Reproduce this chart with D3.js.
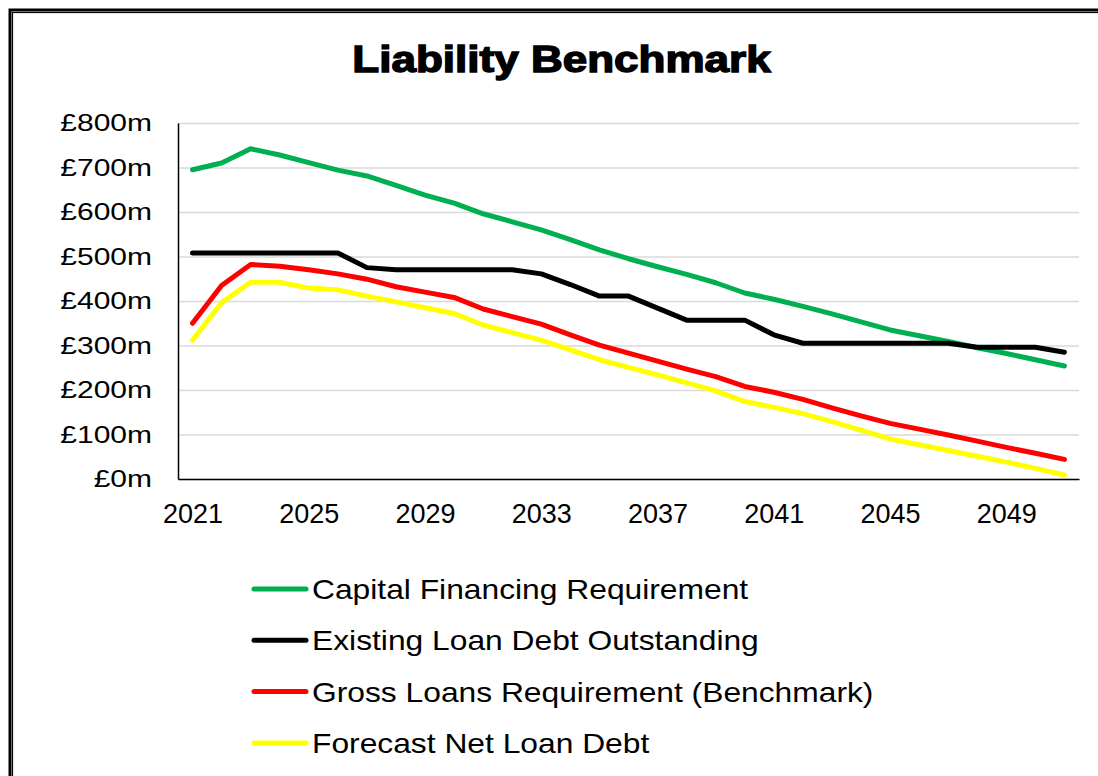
<!DOCTYPE html>
<html>
<head>
<meta charset="utf-8">
<script src="https://cdn.jsdelivr.net/npm/d3@7"></script>
<style>
  body { margin: 0; background: #fff; }
  svg { display: block; }
</style>
</head>
<body>
<script>
// data (£m)
var years = d3.range(2021, 2052);
var cfr = [695, 710, 742, 728, 711, 694, 681, 660, 638, 620, 596, 578, 560, 538, 515, 495, 477, 460, 441, 418, 404, 388, 371, 353, 335, 322, 309, 295, 282, 268, 254];
var existing = [508, 508, 508, 508, 508, 508, 475, 470, 470, 470, 470, 470, 461, 437, 411, 411, 384, 357, 357, 357, 324, 305, 305, 305, 305, 305, 305, 296, 296, 296, 285];
var gross = [350, 435, 482, 478, 470, 461, 449, 432, 420, 408, 382, 365, 348, 324, 301, 283, 265, 247, 230, 208, 195, 179, 160, 142, 125, 112, 99, 85, 71, 58, 44];
var net = [312, 396, 442, 442, 429, 425, 411, 398, 385, 372, 346, 329, 312, 290, 268, 251, 234, 216, 198, 174, 161, 147, 129, 110, 90, 77, 64, 51, 38, 24, 9];
var yTicks = [0, 100, 200, 300, 400, 500, 600, 700, 800];
var seriesNames = ["Capital Financing Requirement", "Existing Loan Debt Outstanding", "Gross Loans Requirement (Benchmark)", "Forecast Net Loan Debt"];
var seriesColors = ["#00b050", "#000000", "#ff0000", "#ffff00"];
var seriesValues = [cfr, existing, gross, net];

var W = 1098, H = 776;
var font = "Liberation Sans, Arial, sans-serif";
var svg = d3.select("body").append("svg")
    .attr("width", W)
    .attr("height", H);

svg.append("rect").attr("width", W).attr("height", H).attr("fill", "#fff");

// double border (runs off the right and bottom edge)
svg.append("rect")
    .attr("x", 10).attr("y", 10).attr("width", 1200).attr("height", 900)
    .attr("fill", "none").attr("stroke", "#000").attr("stroke-width", 3);
svg.append("rect")
    .attr("x", 12.5).attr("y", 12.5).attr("width", 1200).attr("height", 900)
    .attr("fill", "none").attr("stroke", "#000").attr("stroke-width", 1.2);

var margin = {left: 178, right: 19, top: 123, bottom: 297};
var x = d3.scalePoint()
    .domain(years)
    .range([margin.left, W - margin.right])
    .padding(0.5);
var y = d3.scaleLinear()
    .domain([0, 800])
    .range([H - margin.bottom, margin.top]);

// title (stretched a bit to look like the heavy original face)
svg.append("text")
    .attr("transform", "translate(561.5,72) scale(1.19,1)")
    .attr("text-anchor", "middle")
    .attr("font-family", font)
    .attr("font-weight", "bold")
    .attr("font-size", "37px")
    .attr("stroke", "#000").attr("stroke-width", 1.4)
    .attr("fill", "#000")
    .text("Liability Benchmark");

// gridlines
svg.append("g")
    .attr("class", "grid")
    .attr("transform", "translate(" + margin.left + ",0)")
    .call(d3.axisLeft(y).tickValues(yTicks).tickSize(-(W - margin.left - margin.right)).tickFormat(""))
    .call(function(g) { g.select(".domain").remove(); })
    .selectAll("line")
    .attr("stroke", "#d9d9d9").attr("stroke-width", 1.5);

// y axis
var ySx = 1.25;
var yAxis = svg.append("g")
    .attr("transform", "translate(" + margin.left + ",0)")
    .call(d3.axisLeft(y).tickValues(yTicks).tickSize(0)
        .tickFormat(function(d) { return "£" + d + "m"; }));
yAxis.select(".domain").attr("stroke", "#000").attr("stroke-width", 1.5);
yAxis.selectAll("text")
    .attr("x", -26 / ySx)
    .attr("transform", "scale(" + ySx + ",1)")
    .attr("font-family", font)
    .attr("font-size", "24px")
    .attr("fill", "#000");

// x axis
var xAxis = svg.append("g")
    .attr("transform", "translate(0," + y(0) + ")")
    .call(d3.axisBottom(x)
        .tickValues(years.filter(function(d, i) { return i % 4 === 0; }))
        .tickSize(0).tickPadding(25));
xAxis.select(".domain").attr("stroke", "#000").attr("stroke-width", 1.5);
xAxis.selectAll("text")
    .attr("font-family", font)
    .attr("font-size", "27px")
    .attr("fill", "#000");

// lines
var line = d3.line()
    .x(function(d, i) { return x(years[i]); })
    .y(function(d) { return y(d); });

seriesValues.forEach(function(vals, k) {
  svg.append("path")
      .datum(vals)
      .attr("d", line)
      .attr("fill", "none")
      .attr("stroke", seriesColors[k])
      .attr("stroke-width", 5)
      .attr("stroke-linejoin", "round")
      .attr("stroke-linecap", "round");
});

// legend
var legend = svg.append("g").attr("transform", "translate(252,589)");
var row = legend.selectAll("g")
    .data(seriesNames)
    .enter().append("g")
    .attr("transform", function(d, i) { return "translate(0," + (i * 51.3) + ")"; });
row.append("line")
    .attr("x1", 2).attr("x2", 54)
    .attr("stroke", function(d, i) { return seriesColors[i]; })
    .attr("stroke-width", 5)
    .attr("stroke-linecap", "round");
row.append("text")
    .attr("transform", "translate(60,10) scale(1.135,1)")
    .attr("font-family", font)
    .attr("font-size", "28px")
    .attr("fill", "#000")
    .text(function(d) { return d; });
</script>
</body>
</html>
